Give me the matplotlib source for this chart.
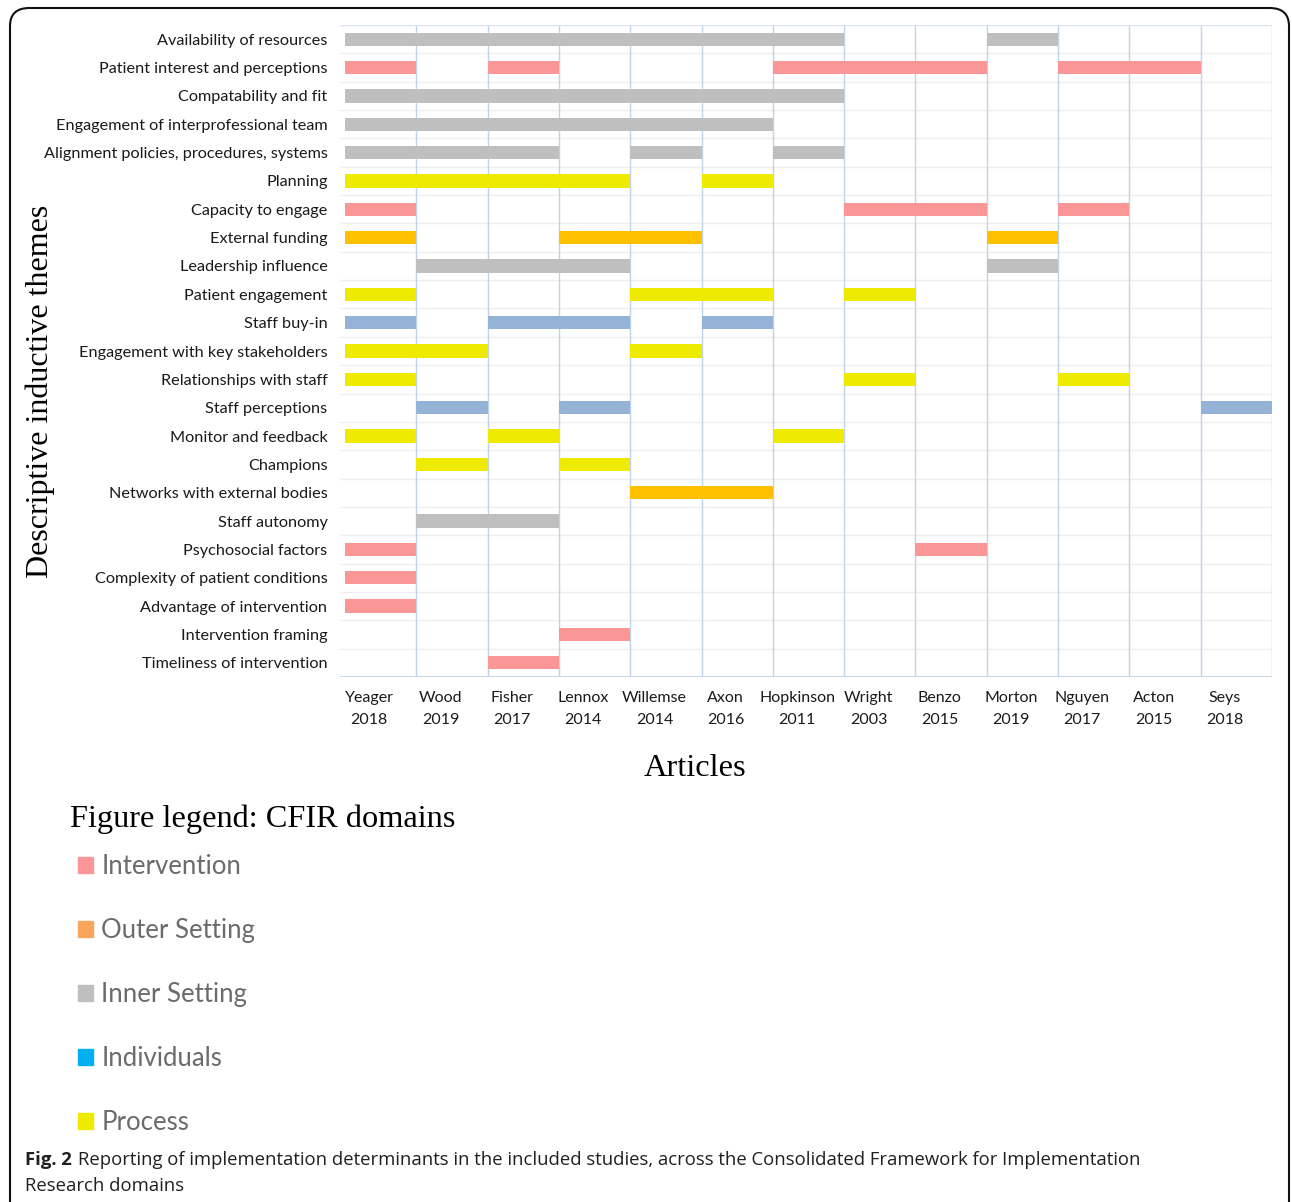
import matplotlib
matplotlib.use('Agg')
import matplotlib.pyplot as plt
from matplotlib.patches import Patch, FancyBboxPatch

#data
articles=['Yeager\n2018','Wood\n2019','Fisher\n2017','Lennox\n2014','Willemse\n2014','Axon\n2016',
          'Hopkinson\n2011','Wright\n2003','Benzo\n2015','Morton\n2019','Nguyen\n2017','Acton\n2015','Seys\n2018']
themes=['Availability of resources','Patient interest and perceptions','Compatability and fit',
        'Engagement of interprofessional team','Alignment policies, procedures, systems','Planning',
        'Capacity to engage','External funding','Leadership influence','Patient engagement','Staff buy-in',
        'Engagement with key stakeholders','Relationships with staff','Staff perceptions','Monitor and feedback',
        'Champions','Networks with external bodies','Staff autonomy','Psychosocial factors',
        'Complexity of patient conditions','Advantage of intervention','Intervention framing',
        'Timeliness of intervention']
theme_domain=['Inner Setting','Intervention','Inner Setting','Inner Setting','Inner Setting','Process',
              'Intervention','Outer Setting','Inner Setting','Process','Individuals','Process','Process',
              'Individuals','Process','Process','Outer Setting','Inner Setting','Intervention','Intervention',
              'Intervention','Intervention','Intervention']
# article index (0=Yeager ... 12=Seys) reporting each theme
theme_articles=[[0,1,2,3,4,5,6,9],[0,2,6,7,8,10,11],[0,1,2,3,4,5,6],[0,1,2,3,4,5],[0,1,2,4,6],
                [0,1,2,3,5],[0,7,8,10],[0,3,4,9],[1,2,3,9],[0,4,5,7],[0,2,3,5],[0,1,4],[0,7,10],
                [1,3,12],[0,2,6],[1,3],[4,5],[1,2],[0,8],[0],[0],[3],[2]]
domains=['Intervention','Outer Setting','Inner Setting','Individuals','Process']
bar_colors={'Intervention':'#FA9696','Outer Setting':'#FFC000','Inner Setting':'#BFBFBF',
            'Individuals':'#95B3D7','Process':'#EEEA00'}
legend_colors={'Intervention':'#FA9696','Outer Setting':'#F9A55E','Inner Setting':'#BFBFBF',
               'Individuals':'#00B0F0','Process':'#EEEA00'}

W,H=1292,1202
fig=plt.figure(figsize=(W/100,H/100),dpi=100)
ax=fig.add_axes([340/W,1-677/H,932/W,652/H])

for i,(arts,dom) in enumerate(zip(theme_articles,theme_domain)):
    for a in arts:
        ax.barh(i,1,left=a,height=0.47,color=bar_colors[dom],zorder=3)

ax.set_xlim(-0.07,13)
ax.set_ylim(len(themes)-0.5,-0.5)
ax.set_yticks(range(len(themes)))
ax.set_yticklabels(themes,fontfamily='Lato',fontsize=11.7,color='#1a1a1a')
ax.set_xticks([k+0.34 for k in range(len(articles))])
ax.set_xticklabels(articles,fontfamily='Lato',fontsize=11.5,color='#1a1a1a',linespacing=1.72)
ax.tick_params(length=0)
ax.tick_params(axis='y',pad=9)
ax.tick_params(axis='x',pad=10)
for k in range(1,14):
    ax.axvline(k,color='#BDD4EA',lw=1,zorder=1)
for k in range(len(themes)):
    ax.axhline(k-0.5,color='#F2ECEC',lw=1,zorder=0)
ax.axhline(len(themes)-0.5,color='#BDD4EA',lw=1.2,zorder=1)
for s in ['left','right','top','bottom']:
    ax.spines[s].set_visible(False)
ax.axhline(-0.5,color='#DCE7F3',lw=1,zorder=1)

fig.text(40/W,1-391/H,'Descriptive inductive themes',rotation=90,ha='center',va='center',
         fontfamily='Liberation Serif',fontsize=23)
fig.text(695/W,1-769/H,'Articles',ha='center',va='center',fontfamily='Liberation Serif',fontsize=23.3)
fig.text(70/W,1-819/H,'Figure legend: CFIR domains',ha='left',va='center',fontfamily='Liberation Serif',fontsize=23.3)

handles=[Patch(color=legend_colors[d],label=d) for d in domains]
fig.legend(handles=handles,loc='upper left',bbox_to_anchor=(78/W,1-854/H),frameon=False,
           prop={'family':'Lato','size':18.5},labelcolor='#6b6b6b',handlelength=0.6,
           handleheight=0.6,handletextpad=0.3,labelspacing=1.52,borderpad=0,borderaxespad=0)

# caption
fig.canvas.draw()
r=fig.canvas.get_renderer()
t=fig.text(25/W,1-1160/H,'Fig. 2',fontfamily='Open Sans',fontweight='bold',fontsize=13.3,va='center',color='#231F20')
bb=t.get_window_extent(renderer=r)
fig.text((bb.x1+6)/W,1-1160/H,'Reporting of implementation determinants in the included studies, across the Consolidated Framework for Implementation',
         fontfamily='Open Sans',fontsize=13.3,va='center',color='#231F20')
fig.text(25/W,1-1186/H,'Research domains',fontfamily='Open Sans',fontsize=13.3,va='center',color='#231F20')

# frame
frame=FancyBboxPatch((10/W,-0.05),1279/W,1.05-8/H,boxstyle='round,pad=0,rounding_size=0.015',
                     transform=fig.transFigure,fill=False,ec='#111111',lw=1.5)
fig.patches.append(frame)

plt.savefig('out.png',dpi=100)
